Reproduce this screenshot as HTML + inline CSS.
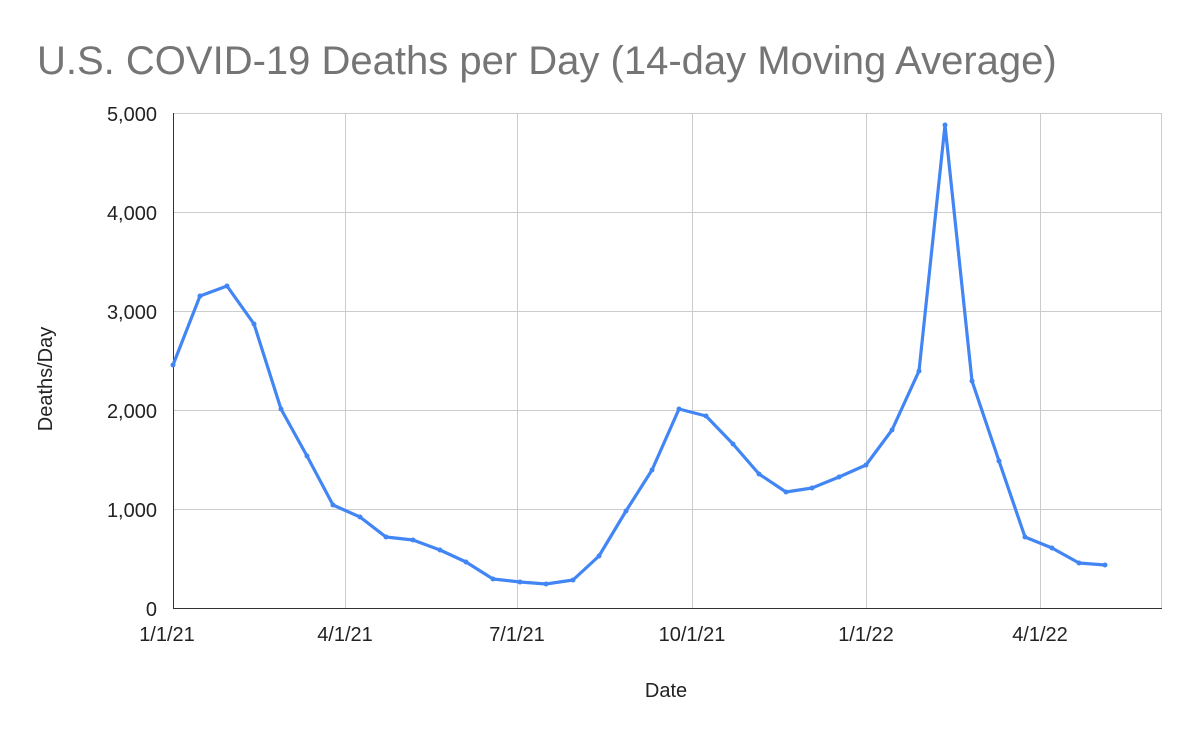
<!DOCTYPE html>
<html><head><meta charset="utf-8"><style>
html,body{margin:0;padding:0;background:#fff;}
svg{display:block;font-family:"Liberation Sans",Arial,sans-serif;}
</style></head><body>
<svg width="1200" height="742" viewBox="0 0 1200 742">
<rect width="1200" height="742" fill="#fff"/>
<text x="37" y="74" font-size="40" fill="#757575">U.S. COVID-19 Deaths per Day (14-day Moving Average)</text>
<g stroke="#cccccc" stroke-width="1">
<line x1="173" y1="113.5" x2="1162" y2="113.5"/>
<line x1="173" y1="212.5" x2="1162" y2="212.5"/>
<line x1="173" y1="311.5" x2="1162" y2="311.5"/>
<line x1="173" y1="410.5" x2="1162" y2="410.5"/>
<line x1="173" y1="509.5" x2="1162" y2="509.5"/>
<line x1="345.5" y1="113" x2="345.5" y2="608"/>
<line x1="517.5" y1="113" x2="517.5" y2="608"/>
<line x1="692.5" y1="113" x2="692.5" y2="608"/>
<line x1="866.5" y1="113" x2="866.5" y2="608"/>
<line x1="1040.5" y1="113" x2="1040.5" y2="608"/>
<line x1="1161.5" y1="113" x2="1161.5" y2="608"/>
</g>
<line x1="173.5" y1="113" x2="173.5" y2="608" stroke="#333" stroke-width="1"/>
<line x1="173" y1="608.5" x2="1162" y2="608.5" stroke="#333" stroke-width="1"/>
<g font-size="20" fill="#222" text-anchor="end">
<text x="157" y="121">5,000</text>
<text x="157" y="220">4,000</text>
<text x="157" y="319">3,000</text>
<text x="157" y="418">2,000</text>
<text x="157" y="517">1,000</text>
<text x="157" y="616">0</text>
</g>
<g font-size="20" fill="#222" text-anchor="middle">
<text x="167" y="641">1/1/21</text>
<text x="345" y="641">4/1/21</text>
<text x="517" y="641">7/1/21</text>
<text x="692" y="641">10/1/21</text>
<text x="866" y="641">1/1/22</text>
<text x="1040" y="641">4/1/22</text>
<text x="666" y="697">Date</text>
</g>
<text transform="translate(52,379) rotate(-90)" font-size="20" fill="#222" text-anchor="middle">Deaths/Day</text>
<polyline fill="none" stroke="#4285F4" stroke-width="3.2" stroke-linejoin="round" points="173,365 200,296 227,286 254,324 281,409 307,456 333,505 360,517 386,537 413,540 440,550 466,562 493,579 520,582 546,584 573,580 599,556 626,511 652,470 679,409 706,416 733,444 759,474 786,492 812,488 839,477 866,465 892,430 919,371 945,125 972,381 999,461 1025,537 1052,548 1079,563 1105,565"/>
<g fill="#4285F4">
<circle cx="173" cy="365" r="2.5"/><circle cx="200" cy="296" r="2.5"/><circle cx="227" cy="286" r="2.5"/><circle cx="254" cy="324" r="2.5"/><circle cx="281" cy="409" r="2.5"/><circle cx="307" cy="456" r="2.5"/><circle cx="333" cy="505" r="2.5"/><circle cx="360" cy="517" r="2.5"/><circle cx="386" cy="537" r="2.5"/><circle cx="413" cy="540" r="2.5"/><circle cx="440" cy="550" r="2.5"/><circle cx="466" cy="562" r="2.5"/><circle cx="493" cy="579" r="2.5"/><circle cx="520" cy="582" r="2.5"/><circle cx="546" cy="584" r="2.5"/><circle cx="573" cy="580" r="2.5"/><circle cx="599" cy="556" r="2.5"/><circle cx="626" cy="511" r="2.5"/><circle cx="652" cy="470" r="2.5"/><circle cx="679" cy="409" r="2.5"/><circle cx="706" cy="416" r="2.5"/><circle cx="733" cy="444" r="2.5"/><circle cx="759" cy="474" r="2.5"/><circle cx="786" cy="492" r="2.5"/><circle cx="812" cy="488" r="2.5"/><circle cx="839" cy="477" r="2.5"/><circle cx="866" cy="465" r="2.5"/><circle cx="892" cy="430" r="2.5"/><circle cx="919" cy="371" r="2.5"/><circle cx="945" cy="125" r="2.5"/><circle cx="972" cy="381" r="2.5"/><circle cx="999" cy="461" r="2.5"/><circle cx="1025" cy="537" r="2.5"/><circle cx="1052" cy="548" r="2.5"/><circle cx="1079" cy="563" r="2.5"/><circle cx="1105" cy="565" r="2.5"/>
</g>
</svg>
</body></html>
